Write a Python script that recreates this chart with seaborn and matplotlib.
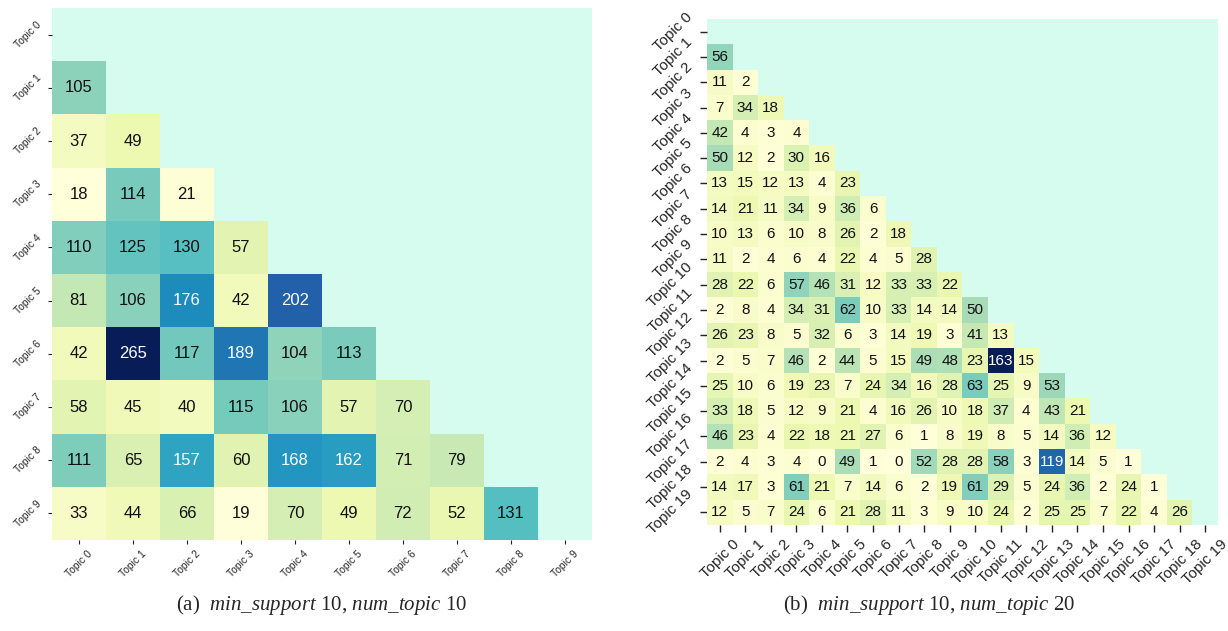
import numpy as np
import pandas as pd
import matplotlib
matplotlib.use("Agg")
import matplotlib.pyplot as plt
import seaborn as sns

# Lower-triangle co-occurrence counts, one list per row (row i has i entries)
rows_10 = [
    [],
    [105],
    [37, 49],
    [18, 114, 21],
    [110, 125, 130, 57],
    [81, 106, 176, 42, 202],
    [42, 265, 117, 189, 104, 113],
    [58, 45, 40, 115, 106, 57, 70],
    [111, 65, 157, 60, 168, 162, 71, 79],
    [33, 44, 66, 19, 70, 49, 72, 52, 131],
]

rows_20 = [
    [],
    [56],
    [11, 2],
    [7, 34, 18],
    [42, 4, 3, 4],
    [50, 12, 2, 30, 16],
    [13, 15, 12, 13, 4, 23],
    [14, 21, 11, 34, 9, 36, 6],
    [10, 13, 6, 10, 8, 26, 2, 18],
    [11, 2, 4, 6, 4, 22, 4, 5, 28],
    [28, 22, 6, 57, 46, 31, 12, 33, 33, 22],
    [2, 8, 4, 34, 31, 62, 10, 33, 14, 14, 50],
    [26, 23, 8, 5, 32, 6, 3, 14, 19, 3, 41, 13],
    [2, 5, 7, 46, 2, 44, 5, 15, 49, 48, 23, 163, 15],
    [25, 10, 6, 19, 23, 7, 24, 34, 16, 28, 63, 25, 9, 53],
    [33, 18, 5, 12, 9, 21, 4, 16, 26, 10, 18, 37, 4, 43, 21],
    [46, 23, 4, 22, 18, 21, 27, 6, 1, 8, 19, 8, 5, 14, 36, 12],
    [2, 4, 3, 4, 0, 49, 1, 0, 52, 28, 28, 58, 3, 119, 14, 5, 1],
    [14, 17, 3, 61, 21, 7, 14, 6, 2, 19, 61, 29, 5, 24, 36, 2, 24, 1],
    [12, 5, 7, 24, 6, 21, 28, 11, 3, 9, 10, 24, 2, 25, 25, 7, 22, 4, 26],
]

labels_10 = [f"Topic {i}" for i in range(10)]
labels_20 = [f"Topic {i}" for i in range(20)]

caption_a = r"(a)  $\mathit{min\_support}$ 10, $\mathit{num\_topic}$ 10"
caption_b = r"(b)  $\mathit{min\_support}$ 10, $\mathit{num\_topic}$ 20"

MASK_COLOR = "#d5fcee"


def to_frame(rows, labels):
    n = len(labels)
    mat = np.zeros((n, n))
    for i, r in enumerate(rows):
        mat[i, :len(r)] = r
    return pd.DataFrame(mat, index=labels, columns=labels)


sns.set_theme(style="white")
plt.rcParams["font.family"] = ["Liberation Sans", "DejaVu Sans"]
plt.rcParams["mathtext.fontset"] = "custom"
plt.rcParams["mathtext.rm"] = "Liberation Serif"
plt.rcParams["mathtext.it"] = "Liberation Serif:italic"

fig = plt.figure(figsize=(12.28, 6.31), dpi=100)
ax1 = fig.add_axes([0.0423, 0.1442, 0.4397, 0.8431])
ax2 = fig.add_axes([0.5757, 0.1680, 0.4161, 0.8019])

df10 = to_frame(rows_10, labels_10)
df20 = to_frame(rows_20, labels_20)
mask10 = np.triu(np.ones_like(df10, dtype=bool))
mask20 = np.triu(np.ones_like(df20, dtype=bool))

sns.heatmap(df10, mask=mask10, cmap="YlGnBu", annot=True, fmt=".0f",
            annot_kws={"size": 12}, cbar=False, square=False, ax=ax1)
sns.heatmap(df20, mask=mask20, cmap="YlGnBu", annot=True, fmt=".0f",
            annot_kws={"size": 11}, cbar=False, square=False, ax=ax2)

for ax in (ax1, ax2):
    ax.set_facecolor(MASK_COLOR)
    ax.set_xlabel("")
    ax.set_ylabel("")
    # darker annotation text on the light cells
    for t in ax.texts:
        if t.get_color() != "w":
            t.set_color("#111111")

ax1.tick_params(axis="both", which="both", length=3, width=0.8,
                labelsize=7.5, bottom=True, left=True, color="#222222")
ax1.set_xticklabels(labels_10, rotation=45)
ax1.set_yticklabels(labels_10, rotation=45)

ax2.tick_params(axis="both", which="both", length=5, width=1.0,
                labelsize=11, bottom=True, left=True, color="#222222")
ax2.set_xticklabels(labels_20, rotation=45)
ax2.set_yticklabels(labels_20, rotation=45)

fig.text(0.262, 0.041, caption_a, ha="center", va="center", fontsize=15,
         family="Liberation Serif")
fig.text(0.757, 0.041, caption_b, ha="center", va="center", fontsize=15,
         family="Liberation Serif")

fig.savefig("out.png", dpi=100)
